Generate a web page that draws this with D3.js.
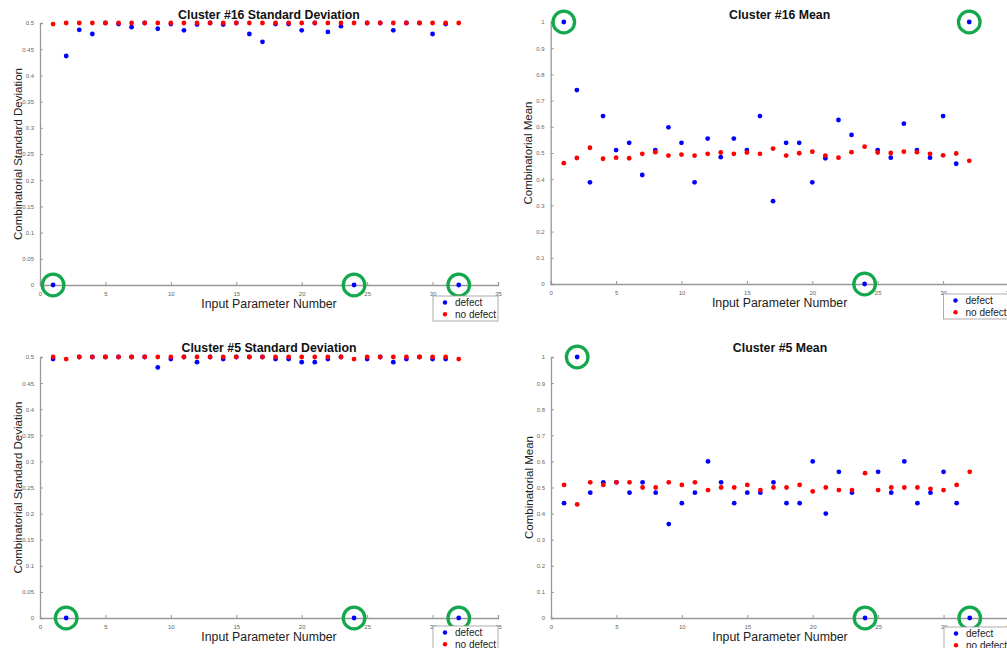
<!DOCTYPE html>
<html><head><meta charset="utf-8">
<script src="https://cdn.jsdelivr.net/npm/d3@7"></script>
<style>
html,body{margin:0;padding:0;background:#fff;}
svg{display:block;font-family:"Liberation Sans",Arial,sans-serif;}
</style></head>
<body>
<svg id="chart" width="1007" height="648"></svg>
<script>
// ---------- data ----------
const params = [1,2,3,4,5,6,7,8,9,10,11,12,13,14,15,16,17,18,19,20,21,22,23,24,25,26,27,28,29,30,31,32];

const sd16Defect   = [0,0.437,0.487,0.479,0.5,0.498,0.492,0.5,0.489,0.498,0.486,0.497,0.5,0.497,0.5,0.479,0.464,0.498,0.498,0.486,0.5,0.483,0.494,0,0.5,0.5,0.486,0.5,0.5,0.479,0.498,0];
const sd16NoDefect = [0.498,0.5,0.5,0.5,0.5,0.5,0.5,0.5,0.5,0.5,0.5,0.5,0.5,0.5,0.5,0.5,0.5,0.5,0.5,0.5,0.5,0.5,0.5,0.5,0.5,0.5,0.5,0.5,0.5,0.5,0.5,0.5];

const mean16Defect   = [1.0,0.740,0.388,0.641,0.511,0.539,0.416,0.511,0.598,0.539,0.388,0.555,0.484,0.555,0.511,0.641,0.316,0.539,0.539,0.388,0.480,0.626,0.569,0,0.511,0.482,0.612,0.511,0.482,0.641,0.459,1.0];
const mean16NoDefect = [0.461,0.481,0.520,0.478,0.482,0.480,0.497,0.503,0.490,0.494,0.490,0.497,0.502,0.497,0.502,0.497,0.517,0.490,0.499,0.505,0.490,0.482,0.503,0.524,0.502,0.500,0.505,0.503,0.497,0.491,0.498,0.470];

const sd5Defect   = [0.496,0,0.5,0.5,0.5,0.5,0.5,0.5,0.480,0.496,0.5,0.490,0.5,0.496,0.5,0.5,0.5,0.496,0.496,0.490,0.490,0.496,0.5,0,0.496,0.5,0.490,0.496,0.5,0.496,0.496,0];
const sd5NoDefect = [0.5,0.496,0.5,0.5,0.5,0.5,0.5,0.5,0.5,0.5,0.5,0.5,0.5,0.5,0.5,0.5,0.5,0.5,0.5,0.5,0.5,0.5,0.5,0.496,0.5,0.5,0.5,0.5,0.5,0.5,0.5,0.496];

const mean5Defect   = [0.44,1.0,0.48,0.52,0.52,0.48,0.52,0.48,0.36,0.44,0.48,0.60,0.52,0.44,0.48,0.48,0.52,0.44,0.44,0.60,0.40,0.56,0.48,0,0.56,0.48,0.60,0.44,0.48,0.56,0.44,0];
const mean5NoDefect = [0.51,0.435,0.52,0.51,0.52,0.52,0.50,0.50,0.52,0.51,0.52,0.49,0.50,0.50,0.51,0.49,0.50,0.50,0.51,0.485,0.50,0.49,0.49,0.555,0.49,0.50,0.50,0.50,0.495,0.49,0.51,0.56];

// highlighted (circled) input parameters per panel
const sd16Circled   = [1,24,32];
const mean16Circled = [1,24,32];
const sd5Circled    = [2,24,32];
const mean5Circled  = [2,24,32];

const xTicks = [0,5,10,15,20,25,30,35];
const sdTicks = [0,0.05,0.1,0.15,0.2,0.25,0.3,0.35,0.4,0.45,0.5];
const meanTicks = [0,0.1,0.2,0.3,0.4,0.5,0.6,0.7,0.8,0.9,1];
const legendLabels = ["defect","no defect"];
const seriesColors = ["#0000ff","#ff0000"];

// ---------- drawing ----------
const svg = d3.select("#chart");

function panel(cfg){
  const x = d3.scaleLinear().domain([0,35]).range([cfg.x0, cfg.x1]);
  const y = d3.scaleLinear().domain([0, cfg.ymax]).range([cfg.y0, cfg.y1]);
  const g = svg.append("g");

  // axes (MATLAB style: ticks inside, light grey)
  const xa = g.append("g").attr("transform",`translate(0,${cfg.y0})`)
    .call(d3.axisBottom(x).tickValues(xTicks).tickSize(-3).tickPadding(6).tickFormat(d3.format("d")));
  const ya = g.append("g").attr("transform",`translate(${cfg.x0},0)`)
    .call(d3.axisLeft(y).tickValues(cfg.ticks).tickSize(-3).tickPadding(6).tickFormat(d=>String(+d.toFixed(2))));
  [xa,ya].forEach(a=>{
    a.select(".domain").attr("stroke","#999").attr("stroke-width",1.3);
    a.selectAll(".tick line").attr("stroke","#999");
    a.selectAll(".tick text").attr("fill","#666").attr("font-size",6).attr("font-family","Liberation Sans, Arial, sans-serif");
  });
  xa.selectAll(".tick text").attr("dy","0.9em");

  // title
  g.append("text").attr("x",(cfg.x0+cfg.x1)/2).attr("y",cfg.titleY)
    .attr("text-anchor","middle").attr("font-weight","bold").attr("font-size",12.3)
    .attr("fill","#111").text(cfg.title);
  // x label
  g.append("text").attr("x",(cfg.x0+cfg.x1)/2).attr("y",cfg.y0+22.5)
    .attr("text-anchor","middle").attr("font-size",12.3).attr("fill","#222")
    .text("Input Parameter Number");
  // y label
  g.append("text").attr("transform",`translate(${cfg.x0-18.5},${(cfg.y0+cfg.y1)/2}) rotate(-90)`)
    .attr("text-anchor","middle").attr("font-size",cfg.ylabelSize).attr("fill","#222")
    .text(cfg.ylabel);

  // points: defect first, then no defect on top
  [cfg.defect, cfg.noDefect].forEach((vals,si)=>{
    g.append("g").selectAll("circle").data(params).join("circle")
      .attr("cx",(d)=>x(d)).attr("cy",(d,i)=>y(vals[i]))
      .attr("r",2.4).attr("fill",seriesColors[si]);
  });

  // green highlight circles
  g.append("g").selectAll("circle").data(cfg.circled).join("circle")
    .attr("cx",d=>x(d)).attr("cy",d=>y(cfg.defect[params.indexOf(d)]))
    .attr("r",10.8).attr("fill","none").attr("stroke","#13a84b").attr("stroke-width",3.3);

  // legend
  const lx = cfg.x1 - 65, ly = cfg.y0 + cfg.legendOff;
  const lg = g.append("g").attr("transform",`translate(${lx},${ly})`);
  lg.append("rect").attr("x",0).attr("y",0).attr("width",65).attr("height",25)
    .attr("fill","#fff").attr("stroke","#999").attr("stroke-width",0.8);
  legendLabels.forEach((lab,i)=>{
    lg.append("circle").attr("cx",12).attr("cy",6.5+i*11.8).attr("r",2.2).attr("fill",seriesColors[i]);
    lg.append("text").attr("x",22).attr("y",10+i*11.8).attr("font-size",10).attr("fill","#222").text(lab);
  });
}

panel({x0:40,x1:498,y0:285,y1:23,ymax:0.5,ticks:sdTicks,title:"Cluster #16 Standard Deviation",titleY:19,
  ylabel:"Combinatorial Standard Deviation",ylabelSize:11.5,defect:sd16Defect,noDefect:sd16NoDefect,circled:sd16Circled,legendOff:11});
panel({x0:550.7,x1:1008.5,y0:284,y1:22,ymax:1,ticks:meanTicks,title:"Cluster #16 Mean",titleY:18.5,
  ylabel:"Combinatorial Mean",ylabelSize:11.5,defect:mean16Defect,noDefect:mean16NoDefect,circled:mean16Circled,legendOff:10});
panel({x0:40,x1:498,y0:618,y1:357,ymax:0.5,ticks:sdTicks,title:"Cluster #5 Standard Deviation",titleY:352,
  ylabel:"Combinatorial Standard Deviation",ylabelSize:11.5,defect:sd5Defect,noDefect:sd5NoDefect,circled:sd5Circled,legendOff:8});
panel({x0:551,x1:1009,y0:618,y1:357,ymax:1,ticks:meanTicks,title:"Cluster #5 Mean",titleY:352,
  ylabel:"Combinatorial Mean",ylabelSize:11.5,defect:mean5Defect,noDefect:mean5NoDefect,circled:mean5Circled,legendOff:9});
</script>
</body></html>
